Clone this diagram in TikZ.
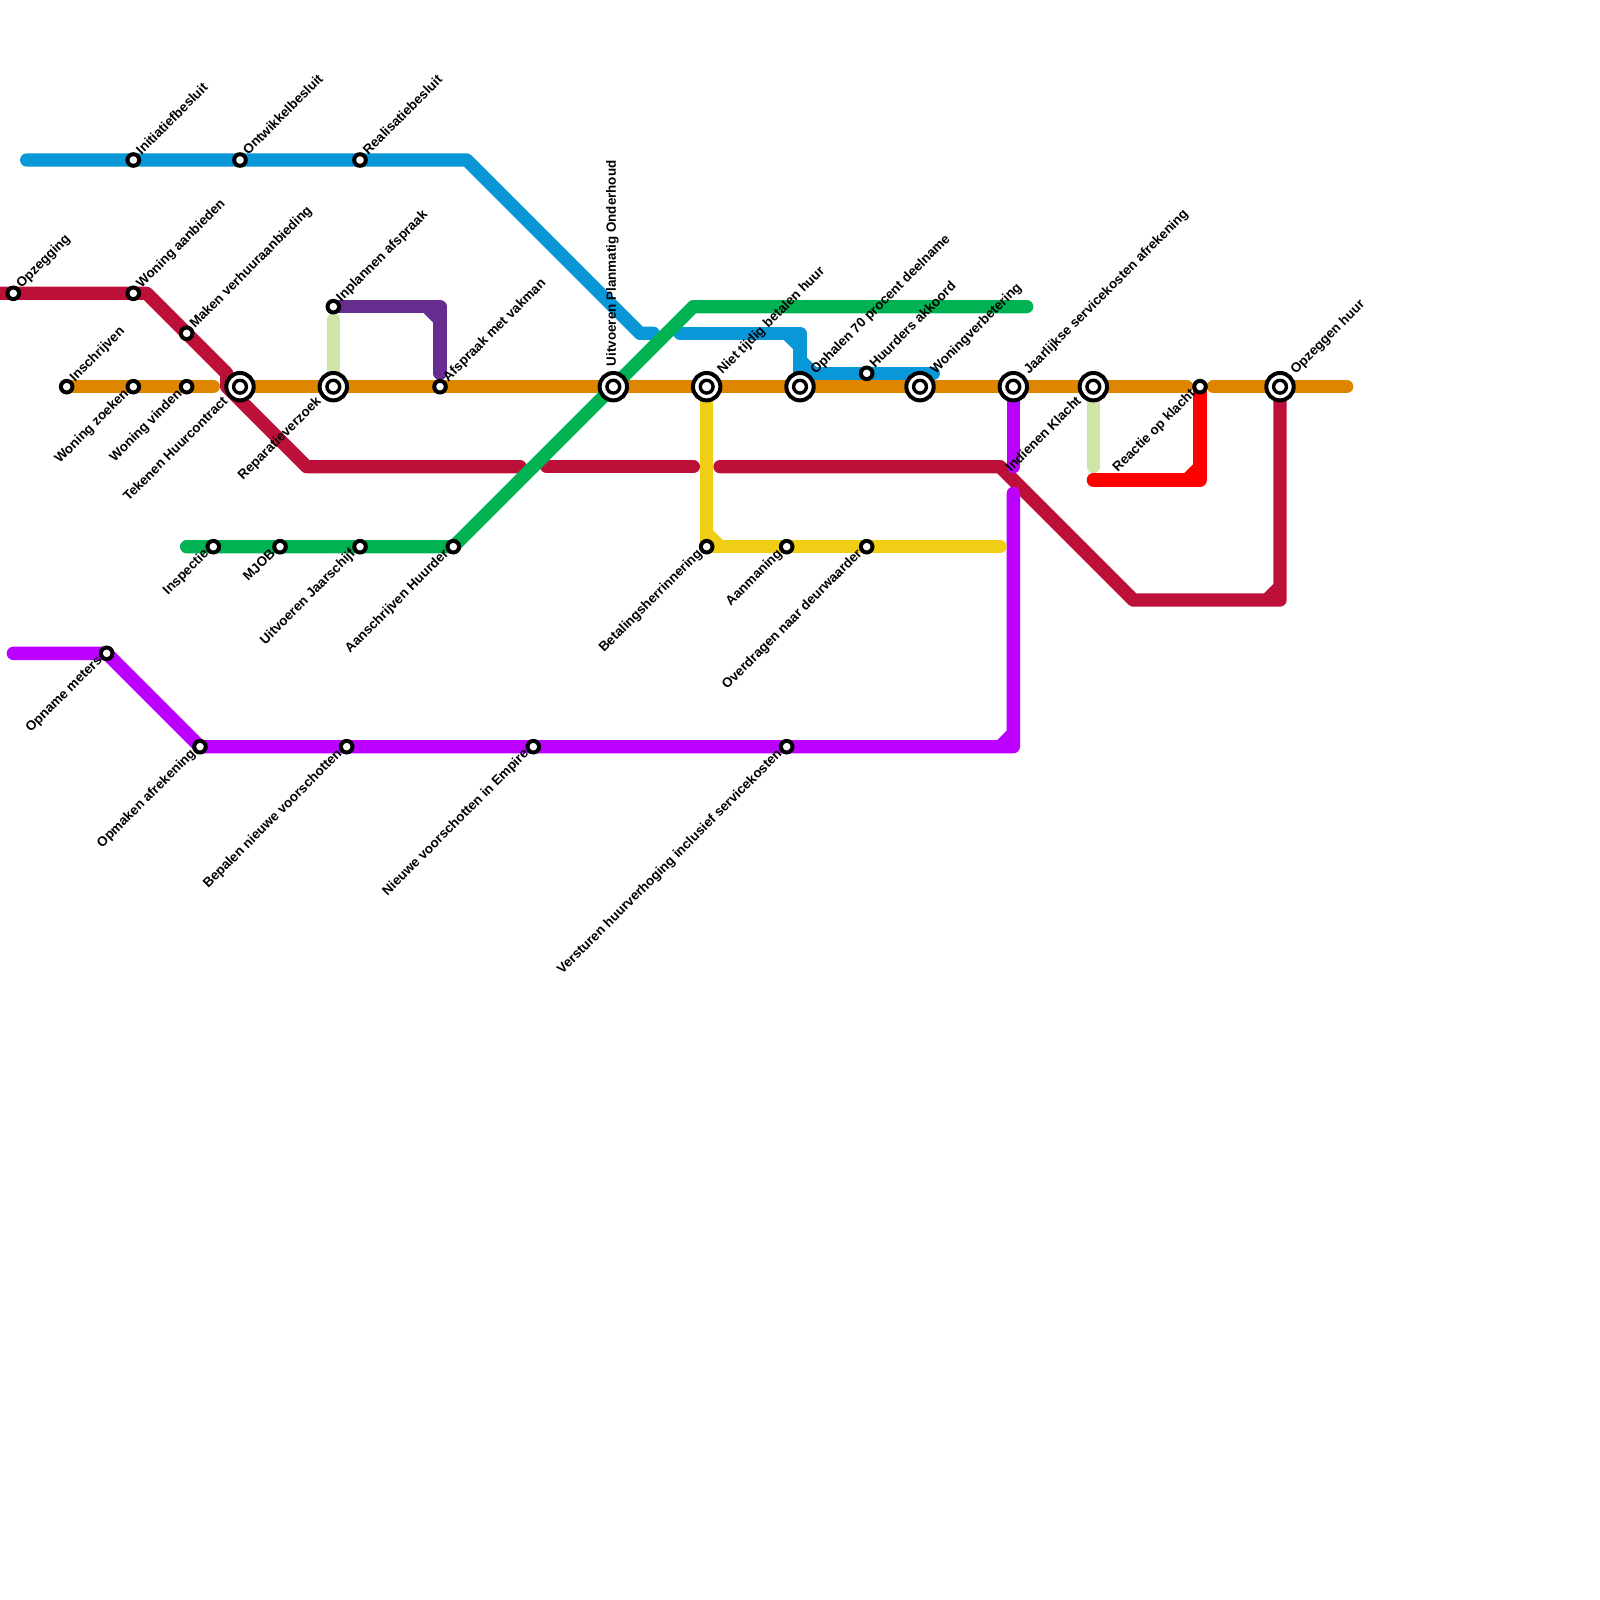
\documentclass[tikz,border=0pt]{standalone}
\usepackage{fontspec}
\setmainfont{Liberation Sans}
\pgfdeclarelayer{lines}
\pgfsetlayers{lines,main}
\definecolor{cOrange}{HTML}{DF8600}
\definecolor{cBlue}{HTML}{0997D8}
\definecolor{cRed}{HTML}{BD1038}
\definecolor{cGreen}{HTML}{00B251}
\definecolor{cViolet}{HTML}{662C90}
\definecolor{cPale}{HTML}{CFE4A7}
\definecolor{cMagenta}{HTML}{BB00FF}
\definecolor{cYellow}{HTML}{F0CE15}
\definecolor{cBright}{HTML}{FF0000}
\tikzset{
  x=1pt,y=-1pt,
  stn/.style={circle,draw=black,line width=4pt,fill=white,minimum size=11.6pt,inner sep=0pt,outer sep=0pt},
  hub/.style={circle,draw=black,line width=4pt,fill=white,minimum size=27.4pt,inner sep=0pt,outer sep=0pt},
  hubin/.style={circle,draw=black,line width=3.4pt,fill=white,minimum size=12.8pt,inner sep=0pt,outer sep=0pt},
  lbl/.style={inner sep=0pt,outer sep=0pt,font=\fontsize{13.4}{13.4}\selectfont\bfseries,text=black},
  lne/.style={lbl,rotate=45,anchor=mid west},
  lsw/.style={lbl,rotate=45,anchor=mid east},
  lup/.style={lbl,rotate=90,anchor=mid west},
  metro/.style={line width=13.33pt,line cap=round,line join=round},
}
% small station: name, x, y, text placed up-right / down-left
\newcommand{\sNE}[4]{\node[stn] (#1) at (#2,#3) {}; \node[lne] (l#1) at ([shift={(6.5,-6.5)}]#1.center) {#4};}
\newcommand{\sSW}[4]{\node[stn] (#1) at (#2,#3) {}; \node[lsw] (l#1) at ([shift={(-6,6)}]#1.center) {#4};}
% hub station: ring plus inner ring
\newcommand{\hNE}[4]{\node[hub] (o#1) at (#2,#3) {}; \node[hubin] (#1) at (#2,#3) {}; \node[lne] (l#1) at ([shift={(14,-14)}]#1.center) {#4};}
\newcommand{\hSW}[4]{\node[hub] (o#1) at (#2,#3) {}; \node[hubin] (#1) at (#2,#3) {}; \node[lsw] (l#1) at ([shift={(-13.5,13.5)}]#1.center) {#4};}
\newcommand{\wpt}[3]{\coordinate (#1) at (#2,#3);}
\begin{document}
\begin{tikzpicture}
\path[use as bounding box] (0,0) rectangle (1600,1600);
% stations, top blue
\sNE{ini}{133.33}{160}{Initiatiefbesluit}
\sNE{ont}{240}{160}{Ontwikkelbesluit}
\sNE{rea}{360}{160}{Realisatiebesluit}
% red
\sNE{opz}{13.33}{293.33}{Opzegging}
\sNE{aan}{133.33}{293.33}{Woning aanbieden}
\sNE{mak}{186.67}{333.33}{Maken verhuuraanbieding}
% orange
\sNE{ins}{66.67}{386.67}{Inschrijven}
\sSW{zoe}{133.33}{386.67}{Woning zoeken}
\sSW{vin}{186.67}{386.67}{Woning vinden}
\hSW{hur}{240}{386.67}{Tekenen Huurcontract}
\hSW{rep}{333.33}{386.67}{Reparatieverzoek}
\sNE{afs}{440}{386.67}{Afspraak met vakman}
\node[hub] (oond) at (613.33,386.67) {};
\node[hubin] (ond) at (613.33,386.67) {};
\node[lup] (lond) at (613.33,366) {Uitvoeren Planmatig Onderhoud};
\hNE{nie}{706.67}{386.67}{Niet tijdig betalen huur}
\hNE{oph}{800}{386.67}{Ophalen 70 procent deelname}
\hNE{wov}{920}{386.67}{Woningverbetering}
\hNE{jaa}{1013.33}{386.67}{Jaarlijkse servicekosten afrekening}
\hSW{ind}{1093.33}{386.67}{Indienen Klacht}
\sSW{rkl}{1200}{386.67}{Reactie op klacht}
\hNE{ozh}{1280}{386.67}{Opzeggen huur}
\sNE{akk}{866.67}{373.33}{Huurders akkoord}
\sNE{inp}{333.33}{306.67}{Inplannen afspraak}
% green
\sSW{isp}{213.33}{546.67}{Inspectie}
\sSW{mjo}{280}{546.67}{MJOB}
\sSW{jsc}{360}{546.67}{Uitvoeren Jaarschijf}
\sSW{ahu}{453.33}{546.67}{Aanschrijven Huurder}
% yellow
\sSW{bet}{706.67}{546.67}{Betalingsherrinnering}
\sSW{maa}{786.67}{546.67}{Aanmaning}
\sSW{ovd}{866.67}{546.67}{Overdragen naar deurwaarder}
% magenta
\sSW{opn}{106.67}{653.33}{Opname meters}
\sSW{afr}{200}{746.67}{Opmaken afrekening}
\sSW{bvs}{346.67}{746.67}{Bepalen nieuwe voorschotten}
\sSW{nvs}{533.33}{746.67}{Nieuwe voorschotten in Empire}
\sSW{ver}{786.67}{746.67}{Versturen huurverhoging inclusief servicekosten}
% free ends and bends
\wpt{b0}{26.67}{160}\wpt{b1}{466.67}{160}\wpt{b2}{640}{333.33}\wpt{b3}{653.33}{333.33}
\wpt{b4}{680}{333.33}\wpt{b5}{800}{333.33}\wpt{b5a}{786.67}{333.33}\wpt{b5b}{800}{346.67}
\wpt{b6}{800}{360}\wpt{b7}{813.33}{373.33}\wpt{b8}{800}{373.33}\wpt{b9}{933.33}{373.33}
\wpt{r0}{0}{293.33}\wpt{r1}{146.67}{293.33}\wpt{r2}{226.67}{373.33}\wpt{r3}{226.67}{386.67}
\wpt{r4}{306.67}{466.67}\wpt{r5}{520}{466.67}\wpt{r6}{546.67}{466.67}\wpt{r7}{693.33}{466.67}
\wpt{r8}{720}{466.67}\wpt{r9}{1000}{466.67}\wpt{r10}{1133.33}{600}\wpt{r11}{1280}{600}
\wpt{r11a}{1266.67}{600}\wpt{r11b}{1280}{586.67}
\wpt{o1}{213.33}{386.67}\wpt{o2}{1186.67}{386.67}\wpt{o3}{1213.33}{386.67}\wpt{o4}{1346.67}{386.67}
\wpt{g0}{186.67}{546.67}\wpt{g1}{693.33}{306.67}\wpt{g2}{1026.67}{306.67}
\wpt{v1}{440}{306.67}\wpt{v1a}{426.67}{306.67}\wpt{v1b}{440}{320}\wpt{v2}{440}{373.33}
\wpt{p1}{333.33}{320}\wpt{p2}{1093.33}{466.67}
\wpt{m0}{13.33}{653.33}\wpt{m1}{1013.33}{746.67}\wpt{m1a}{1000}{746.67}\wpt{m1b}{1013.33}{733.33}
\wpt{m2}{1013.33}{493.33}\wpt{m3}{1013.33}{466.67}
\wpt{y1}{720}{546.67}\wpt{y2}{706.67}{533.33}\wpt{y3}{1000}{546.67}
\wpt{f0}{1093.33}{480}\wpt{f1}{1200}{480}\wpt{f1a}{1186.67}{480}\wpt{f1b}{1200}{466.67}
\begin{pgfonlayer}{lines}
% bordeaux
\draw[metro,cRed] (r0) -- (r1) -- (r2) -- (r3) -- (r4) -- (r5);
\draw[metro,cRed] (r6) -- (r7);
\draw[metro,cRed] (r8) -- (r9) -- (r10) -- (r11) -- (ozh.center);
\draw[metro,cRed,line cap=butt] (r11a) -- (r11b);
% orange
\draw[metro,cOrange] (ins.center) -- (o1);
\draw[metro,cOrange] (hur.center) -- (o2);
\draw[metro,cOrange] (o3) -- (o4);
% blue
\draw[metro,cBlue] (b0) -- (b1) -- (b2) -- (b3);
\draw[metro,cBlue] (b4) -- (b5) -- (oph.center);
\draw[metro,cBlue,line cap=butt] (b5a) -- (b5b);
\draw[metro,cBlue,line cap=butt] (b6) -- (b7);
\draw[metro,cBlue] (b8) -- (b9);
% green
\draw[metro,cGreen] (g0) -- (ahu.center) -- (g1) -- (g2);
% violet
\draw[metro,cViolet] (inp.center) -- (v1) -- (v2);
\draw[metro,cViolet,line cap=butt] (v1a) -- (v1b);
% pale green
\draw[metro,cPale] (p1) -- (rep.center);
\draw[metro,cPale] (ind.center) -- (p2);
% magenta
\draw[metro,cMagenta] (m0) -- (opn.center) -- (afr.center) -- (m1) -- (m2);
\draw[metro,cMagenta,line cap=butt] (m1a) -- (m1b);
\draw[metro,cMagenta] (jaa.center) -- (m3);
% yellow
\draw[metro,cYellow] (nie.center) -- (bet.center) -- (y3);
\draw[metro,cYellow,line cap=butt] (y2) -- (y1);
% bright red
\draw[metro,cBright] (f0) -- (f1) -- (rkl.center);
\draw[metro,cBright,line cap=butt] (f1a) -- (f1b);
\end{pgfonlayer}
\end{tikzpicture}
\end{document}
